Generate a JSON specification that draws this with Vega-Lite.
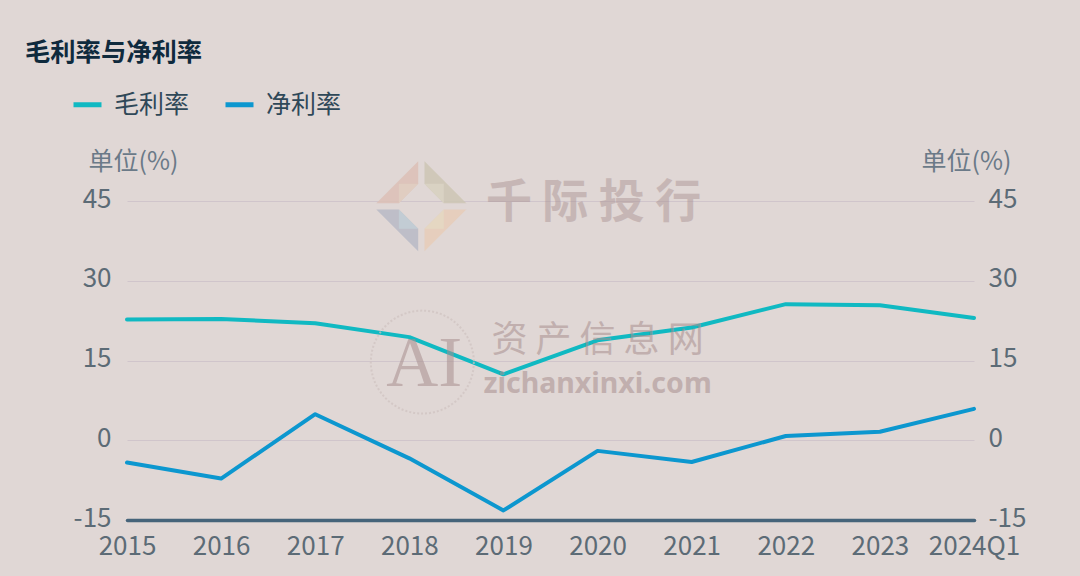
{"$schema":"https://vega.github.io/schema/vega-lite/v6.json","width":847,"height":319,"autosize":{"type":"none"},"padding":{"left":127,"top":201,"right":106,"bottom":56},"background":"#e0d7d5",
"title":{"text":"毛利率与净利率","anchor":"start","frame":"group","dx":-102,"offset":22,"font":"Noto Sans CJK SC","fontSize":25.3,"fontWeight":"bold","color":"#0f2a3d"},
"config":{"view":{"stroke":null},"font":"Noto Sans CJK SC"},
"datasets":{"rates":[
{"period":"2015","series":"毛利率","value":22.7},{"period":"2016","series":"毛利率","value":22.8},{"period":"2017","series":"毛利率","value":22.0},{"period":"2018","series":"毛利率","value":19.4},{"period":"2019","series":"毛利率","value":12.4},{"period":"2020","series":"毛利率","value":18.8},{"period":"2021","series":"毛利率","value":21.2},{"period":"2022","series":"毛利率","value":25.6},{"period":"2023","series":"毛利率","value":25.4},{"period":"2024Q1","series":"毛利率","value":23.0},
{"period":"2015","series":"净利率","value":-4.2},{"period":"2016","series":"净利率","value":-7.2},{"period":"2017","series":"净利率","value":4.9},{"period":"2018","series":"净利率","value":-3.4},{"period":"2019","series":"净利率","value":-13.2},{"period":"2020","series":"净利率","value":-2.0},{"period":"2021","series":"净利率","value":-4.1},{"period":"2022","series":"净利率","value":0.8},{"period":"2023","series":"净利率","value":1.6},{"period":"2024Q1","series":"净利率","value":5.9}],
"logo":[{"period":"2018","y":44.0,"piece":"tl"},{"period":"2018","y":44.0,"piece":"tr"},{"period":"2018","y":44.0,"piece":"bl"},{"period":"2018","y":44.0,"piece":"br"},{"period":"2018","y":44.0,"piece":"tli"},{"period":"2018","y":44.0,"piece":"tri"},{"period":"2018","y":44.0,"piece":"bli"},{"period":"2018","y":44.0,"piece":"bri"}]},
"data":{"name":"rates"},
"layer":[
{"mark":{"type":"line","strokeWidth":4,"strokeCap":"round","strokeJoin":"round"},
"encoding":{
"x":{"field":"period","type":"ordinal","sort":null,"scale":{"type":"point","padding":0},"axis":{"title":null,"labelAngle":0,"labelFontSize":26,"labelColor":"#5c6b76","labelFont":"Noto Sans CJK SC","labelPadding":13,"labelOverlap":false,"labelBound":false,"labelFlush":false,"ticks":false,"grid":false,"domain":true,"domainColor":"#46647a","domainWidth":3.5,"domainCap":"round"}},
"y":{"field":"value","type":"quantitative","scale":{"domain":[-15,45],"nice":false,"zero":false},"axis":{"orient":"left","values":[-15,0,15,30,45],"labelExpr":"''+datum.value","labelOffset":-2,"grid":true,"gridColor":"#d0c5cb","gridWidth":1.2,"domain":false,"ticks":false,"labelPadding":16,"labelFontSize":26,"labelColor":"#5c6b76","title":"单位(%)","titleAngle":0,"titleFontSize":25,"titleFontWeight":"normal","titleColor":"#6b7a88","titleX":6,"titleY":-40,"titleAlign":"center","titleBaseline":"middle"}},
"color":{"field":"series","type":"nominal","scale":{"domain":["毛利率","净利率"],"range":["#10b9c2","#0c97cf"]},"legend":{"title":null,"orient":"none","legendX":-56,"legendY":-113,"direction":"horizontal","columns":2,"symbolType":"stroke","symbolSize":784,"symbolStrokeWidth":5,"labelFontSize":25,"labelColor":"#2f4858","labelOffset":10,"columnPadding":25,"labelFont":"Noto Sans CJK SC"}}}},
{"mark":{"type":"line","opacity":0},
"encoding":{
"x":{"field":"period","type":"ordinal","sort":null},
"y":{"field":"value","type":"quantitative","axis":{"orient":"right","values":[-15,0,15,30,45],"labelExpr":"''+datum.value","labelOffset":-2,"grid":false,"domain":false,"ticks":false,"labelPadding":14,"labelFontSize":26,"labelColor":"#5c6b76","title":"单位(%)","titleAngle":0,"titleFontSize":25,"titleFontWeight":"normal","titleColor":"#6b7a88","titleX":-8,"titleY":-40,"titleAlign":"center","titleBaseline":"middle"}},
"detail":{"field":"series"}}},
{"data":{"name":"logo"},"mark":{"type":"point","filled":true,"size":8100,"xOffset":12,"opacity":0.85},
"encoding":{
"x":{"field":"period","type":"ordinal","sort":null},
"y":{"field":"y","type":"quantitative","axis":null},
"shape":{"field":"piece","type":"nominal","legend":null,"scale":{"domain":["tl","tr","bl","br","tli","tri","bli","bri"],"range":["M-1,-0.07 L-0.07,-1 L-0.07,-0.5 L-0.5,-0.07 Z","M1,-0.07 L0.07,-1 L0.07,-0.5 L0.5,-0.07 Z","M-1,0.07 L-0.07,1 L-0.07,0.5 L-0.5,0.07 Z","M1,0.07 L0.07,1 L0.07,0.5 L0.5,0.07 Z","M-0.5,-0.07 L-0.5,-0.5 L-0.07,-0.5 Z","M0.5,-0.07 L0.5,-0.5 L0.07,-0.5 Z","M-0.5,0.07 L-0.5,0.5 L-0.07,0.5 Z","M0.5,0.07 L0.5,0.5 L0.07,0.5 Z"]}},
"color":{"field":"piece","type":"nominal","legend":null,"scale":{"domain":["tl","tr","bl","br","tli","tri","bli","bri"],"range":["#dcbfb6","#cdc5b4","#b7bac5","#e6cdb8","#e0cfc2","#dad4c4","#c3cfd6","#e4d8c3"]}}}},
{"data":{"values":[{"period":"2020","y":44.6,"label":"千 际 投 行"}]},"mark":{"type":"text","font":"Noto Sans CJK SC","fontSize":46,"fontWeight":"bold","fill":"#a88f8f","opacity":0.45,"dx":-4,"align":"center","baseline":"middle"},
"encoding":{"x":{"field":"period","type":"ordinal","sort":null},"y":{"field":"y","type":"quantitative","axis":null},"text":{"field":"label"}}},
{"data":{"values":[{"period":"2020","y":18.7,"label":"资 产 信 息 网"}]},"mark":{"type":"text","font":"Noto Sans CJK SC","fontSize":36,"fill":"#a88f8f","opacity":0.55,"align":"center","baseline":"middle"},
"encoding":{"x":{"field":"period","type":"ordinal","sort":null},"y":{"field":"y","type":"quantitative","axis":null},"text":{"field":"label"}}},
{"data":{"values":[{"period":"2020","y":10.6,"label":"zichanxinxi.com"}]},"mark":{"type":"text","font":"Noto Sans","fontSize":28.5,"fontWeight":"bold","fill":"#a88f8f","opacity":0.55,"align":"center","baseline":"middle"},
"encoding":{"x":{"field":"period","type":"ordinal","sort":null},"y":{"field":"y","type":"quantitative","axis":null},"text":{"field":"label"}}},
{"data":{"values":[{"period":"2018","y":14.8,"label":"AI"}]},"mark":{"type":"text","font":"Liberation Serif","fontSize":72,"fill":"#a88f8f","opacity":0.55,"dx":15,"dy":2,"align":"center","baseline":"middle"},
"encoding":{"x":{"field":"period","type":"ordinal","sort":null},"y":{"field":"y","type":"quantitative","axis":null},"text":{"field":"label"}}},
{"data":{"values":[{"period":"2018","y":14.7}]},"mark":{"type":"point","shape":"circle","filled":false,"size":10600,"stroke":"#cfc3c1","strokeWidth":2,"strokeDash":[2,2],"xOffset":13},
"encoding":{"x":{"field":"period","type":"ordinal","sort":null},"y":{"field":"y","type":"quantitative","axis":null}}}
],
"resolve":{"axis":{"y":"independent"},"scale":{"color":"independent","shape":"independent"}}}
